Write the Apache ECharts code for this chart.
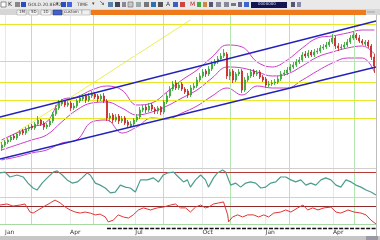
<!DOCTYPE html>
<html><head><meta charset="utf-8">
<script src="https://cdn.jsdelivr.net/npm/echarts@6/dist/echarts.min.js"></script>
<style>html,body{margin:0;padding:0;background:#fff;overflow:hidden}#c{width:380px;height:240px}</style>
</head><body><div id="c"></div>
<script>
// ---- price candles (arbitrary price units) ----
const opens=[52,55,58,60,64,62,66,69,67,71,74,72,76,80,77,73,75,79,86,92,96,99,95,97,92,94,99,101,104,100,104,106,104,101,104,99,82,85,80,84,79,82,78,74,76,80,83,90,93,90,95,91,89,93,88,98,104,111,117,112,116,111,109,105,112,114,120,124,129,126,131,136,138,141,144,146,124,129,120,126,129,110,120,124,129,126,128,123,121,115,116,117,118,121,126,127,130,133,135,138,140,146,144,148,145,148,149,152,153,155,158,162,154,152,153,155,158,162,165,162,159,156,158,154,143];
const closes=[55,58,60,63,62,66,68,67,71,73,72,76,80,76,73,75,79,86,92,97,98,95,97,92,94,99,102,103,100,104,106,103,101,104,99,82,84,80,83,79,81,77,75,76,80,83,90,92,90,94,91,89,92,88,98,104,111,116,112,115,111,108,105,112,114,120,124,128,126,131,136,138,141,144,147,124,128,120,126,128,110,120,124,128,126,127,123,120,115,116,117,118,121,126,127,130,133,135,138,140,145,144,147,145,148,149,152,153,155,158,162,154,152,153,155,158,162,165,162,159,157,158,154,143,134];
const highs=[58,60,62,65,66,67,70,71,73,75,76,78,84,81,79,77,81,88,95,100,101,100,99,99,97,101,105,106,106,107,109,108,106,106,107,101,87,87,86,86,84,84,80,79,82,86,93,95,95,97,97,93,94,94,100,107,114,119,120,118,118,113,111,115,117,123,127,131,131,134,139,141,144,147,151,148,131,131,128,131,131,123,127,131,131,130,130,125,123,119,120,121,124,129,130,133,136,138,141,143,148,149,150,150,151,152,155,156,158,161,166,164,157,156,158,161,165,168,167,165,161,160,160,156,146];
const lows=[49,53,56,58,60,60,64,65,65,69,70,70,74,74,70,71,73,77,84,90,94,93,93,89,90,92,97,99,97,98,102,101,98,99,97,79,78,77,78,76,77,75,72,72,74,78,81,88,87,88,89,86,86,85,86,96,102,109,110,110,109,106,102,103,110,112,118,122,123,124,129,134,136,139,142,121,120,117,118,124,107,108,118,122,123,124,121,118,112,113,114,115,116,119,124,125,128,131,133,136,138,142,142,143,143,146,147,150,151,153,156,151,149,150,151,153,156,160,160,157,155,154,152,140,127];
const categories=opens.map((_,i)=>String(i));

// ---- Bollinger-style bands (read at sparse bar positions) ----
const bandIdx=[0,5,10,15,20,25,30,35,40,45,50,55,60,65,70,75,80,85,90,95,100,105,110,115,120,124];
const bandUpper=[60,67,73,78,100,103,110,114,110,95,97,108,120,130,143,155,153,138,133,140,152,162,164,167,170,170];
const bandMid=[50,55,60,65,78,90,97,98,92,85,88,94,102,110,122,133,132,128,124,126,134,143,148,152,154,146];
const bandLower=[40,43,47,50,57,60,78,80,67,73,82,81,87,94,104,112,105,114,112,112,120,129,137,142,142,128];

// ---- drawn lines: [bar position, price] end points ----
const channelUpper=[[-0.5,83],[124.5,179]];
const channelLower=[[-0.5,41],[124.5,133]];
const trendLine=[[-0.5,57],[62.8,180]];
const levels=[176,139,118,100,82];

// ---- oscillator panel 1 ----
const oscIdx=[-0.5,1.2,2.8,5.2,7.2,8.8,10.5,11.8,13.5,15.2,17.2,18.5,20.2,21.8,23.5,25.2,26.8,28.5,29.5,31.2,32.8,34.5,36.2,37.8,39.5,41.2,42.8,44.5,46.2,48.5,50.5,52.2,53.8,55.2,57.2,58.8,60.5,61.8,62.8,64.5,66.2,67.8,68.8,70.5,71.8,73.5,74.5,76.2,77.8,79.5,81.2,82.8,84.5,86.2,87.8,89.5,91.2,92.8,94.5,96.2,97.8,99.5,101.2,102.8,104.5,106.2,107.8,109.5,111.2,112.8,114.5,116.2,117.8,119.5,121.2,122.8,124.5];
const oscVal=[83,86,69,76,69,48,31,24,48,66,86,90,76,59,48,52,66,83,76,48,41,31,14,17,41,34,31,17,59,59,66,52,76,83,86,69,52,59,34,59,76,59,34,66,83,93,86,41,48,34,48,52,48,31,34,48,52,69,69,59,52,59,41,48,41,59,66,59,41,34,59,52,41,34,24,17,7];
const oscLevel=85;

// ---- oscillator panel 2 ----
const strIdx=[-0.5,1.8,3.8,6.2,7.8,9.5,10.5,12.2,13.8,16.2,17.8,19.5,21.2,22.8,24.5,26.2,27.8,29.5,31.2,32.8,34.5,35.5,37.2,38.8,40.5,42.2,43.8,45.5,47.2,49.5,51.8,53.8,56.2,57.8,59.5,61.2,62.8,64.5,66.2,67.8,68.8,70.5,72.2,73.8,75.2,75.5,76.8,78.5,80.2,81.8,83.8,85.5,87.2,88.8,90.5,92.8,94.5,96.2,98.5,100.2,101.8,103.5,105.2,107.2,109.5,111.2,112.8,115.2,117.2,119.5,121.2,122.8,124.5];
const strVal=[73,77,69,73,77,46,42,54,65,81,92,81,65,54,46,42,46,42,35,38,27,8,15,35,27,23,35,54,62,54,62,65,73,77,62,62,46,65,73,62,65,77,81,85,35,8,27,35,27,35,35,27,35,27,42,46,54,46,62,73,54,62,54,62,65,46,42,54,46,42,35,15,0];
const strLevel=70;

// ---- time axis ----
const monthLines=[9.8,30.5,53.8,76.2,95.5,117.2];
const labelPos=[1.2,22.8,44.5,66.8,87.8,110.2];
const labelText=['Jan','Apr','Jul','Oct','Jan','Apr'];

const chart=echarts.init(document.getElementById('c'),null,{renderer:'canvas'});
const XR={min:-0.5,max:124.5};
const vLines=()=>({silent:true,symbol:'none',label:{show:false},animation:false,
  data:monthLines.map(v=>({xAxis:v,lineStyle:{color:'#b4e6b4',width:1,type:'solid'}}))
    .concat(labelPos.map(v=>({xAxis:v,lineStyle:{color:'#e8e8e8',width:1,type:'solid'}})))});
const pairs=(xs,ys)=>xs.map((x,k)=>[x,ys[k]]);

const option={
  animation:false,
  backgroundColor:'#ffffff',
  grid:[
    {left:0,right:4,top:15,height:153},
    {left:0,right:4,top:168,height:29},
    {left:0,right:4,top:198,height:26}
  ],
  xAxis:[
    {type:'category',gridIndex:0,data:categories,boundaryGap:true,show:false},
    {type:'value',gridIndex:0,...XR,show:false},
    {type:'value',gridIndex:1,...XR,show:false},
    {type:'value',gridIndex:2,...XR,splitLine:{show:false},
      axisLine:{show:true,lineStyle:{color:'#a6d9a6',width:1}},axisTick:{show:false},
      axisLabel:{show:true,customValues:labelPos,formatter:v=>{const k=labelPos.indexOf(v);return k>=0?labelText[k]:'';},
        fontSize:6,color:'#333',align:'left',margin:5,fontFamily:'DejaVu Sans'}}
  ],
  yAxis:[
    {type:'value',gridIndex:0,min:32,max:185,show:false},
    {type:'value',gridIndex:1,min:0,max:100,show:false},
    {type:'value',gridIndex:2,min:0,max:100,show:false}
  ],
  series:[
    {type:'line',xAxisIndex:1,yAxisIndex:0,data:[],markLine:Object.assign(vLines(),{
      data:vLines().data.concat(levels.map(v=>({yAxis:v,lineStyle:{color:'#e6e62a',width:1,type:'solid'}})))})},
    {type:'line',xAxisIndex:1,yAxisIndex:0,data:trendLine,symbol:'none',lineStyle:{color:'#ecec5a',width:1},z:3},
    {type:'line',xAxisIndex:1,yAxisIndex:0,data:pairs(bandIdx,bandUpper),smooth:0.4,symbol:'none',lineStyle:{color:'#c93ec9',width:1},z:4},
    {type:'line',xAxisIndex:1,yAxisIndex:0,data:pairs(bandIdx,bandMid),smooth:0.4,symbol:'none',lineStyle:{color:'#c93ec9',width:1},z:4},
    {type:'line',xAxisIndex:1,yAxisIndex:0,data:pairs(bandIdx,bandLower),smooth:0.4,symbol:'none',lineStyle:{color:'#c93ec9',width:1},z:4},
    {type:'candlestick',xAxisIndex:0,yAxisIndex:0,z:5,barMaxWidth:2,
      data:opens.map((o,i)=>[o,closes[i],lows[i],highs[i]]),
      itemStyle:{color:'#3fcf3f',color0:'#ec3030',borderColor:'#2f9f2f',borderColor0:'#c02020',borderWidth:0.8}},
    {type:'line',xAxisIndex:1,yAxisIndex:0,data:channelUpper,symbol:'none',lineStyle:{color:'#2222bb',width:1.3},z:6},
    {type:'line',xAxisIndex:1,yAxisIndex:0,data:channelLower,symbol:'none',lineStyle:{color:'#2222bb',width:1.3},z:6},
    {type:'line',xAxisIndex:2,yAxisIndex:1,data:pairs(oscIdx,oscVal),symbol:'none',lineStyle:{color:'#4c9c90',width:1.2},z:5,
      markLine:Object.assign(vLines(),{data:vLines().data.concat([{yAxis:oscLevel,lineStyle:{color:'#b83838',width:1,type:'solid'}}])})},
    {type:'line',xAxisIndex:3,yAxisIndex:2,data:pairs(strIdx,strVal),symbol:'none',lineStyle:{color:'#e03434',width:1},z:5,
      markLine:Object.assign(vLines(),{data:vLines().data.concat([{yAxis:strLevel,lineStyle:{color:'#8e2a2a',width:1,type:'solid'}}])})}
  ],
  graphic:[
    {type:'rect',shape:{x:0,y:0,width:380,height:9},style:{fill:'#e9e9e9'},silent:true},
    {type:'rect',shape:{x:0,y:9,width:380,height:6},style:{fill:'#d6d6d6'},silent:true},
    {type:'rect',shape:{x:1,y:2,width:5,height:5},style:{fill:'#fff',stroke:'#666',lineWidth:0.7}},
    {type:'text',left:8,top:1,style:{text:'K',fontSize:6,fill:'#333',fontFamily:'DejaVu Sans'}},
    {type:'rect',shape:{x:15,y:2,width:5,height:5},style:{fill:'#888'}},
    {type:'rect',shape:{x:21,y:2,width:5,height:5},style:{fill:'#2b4fb8'}},
    {type:'text',left:28,top:2,style:{text:'GOLD.20.8EH2',fontSize:4.5,fill:'#444',fontFamily:'DejaVu Sans'}},
    {type:'text',left:56,top:1,style:{text:'▾',fontSize:5,fill:'#444'}},
    {type:'rect',shape:{x:61,y:2,width:5,height:5},style:{fill:'#2b4fb8'}},
    {type:'rect',shape:{x:67,y:2,width:5,height:5},style:{fill:'#4466dd'}},
    {type:'text',left:77,top:2,style:{text:'TIME',fontSize:4.5,fill:'#444',fontFamily:'DejaVu Sans'}},
    {type:'text',left:92,top:1,style:{text:'▾',fontSize:5,fill:'#444'}},
    {type:'text',left:99,top:0,style:{text:'↘',fontSize:7,fill:'#444'}},
    {type:'rect',shape:{x:108,y:2,width:5,height:5},style:{fill:'#5a7fa8'}},
    {type:'rect',shape:{x:115,y:2,width:5,height:5},style:{fill:'#445'}},
    {type:'rect',shape:{x:122,y:2,width:4,height:5},style:{fill:'#889'}},
    {type:'rect',shape:{x:128,y:2,width:5,height:5},style:{fill:'#c8c8c8',stroke:'#666',lineWidth:0.6}},
    {type:'rect',shape:{x:136,y:2,width:5,height:5},style:{fill:'#9aa'}},
    {type:'rect',shape:{x:144,y:2,width:5,height:5},style:{fill:'#777'}},
    {type:'rect',shape:{x:151,y:2,width:5,height:5},style:{fill:'#2e6fb0'}},
    {type:'rect',shape:{x:158,y:2,width:5,height:5},style:{fill:'#555'}},
    {type:'text',left:166,top:1,style:{text:'A',fontSize:6,fill:'#444',fontFamily:'DejaVu Sans'}},
    {type:'rect',shape:{x:173,y:2,width:5,height:5},style:{fill:'#3b5fc0'}},
    {type:'rect',shape:{x:180,y:2,width:5,height:5},style:{fill:'#c44'}},
    {type:'text',left:190,top:1,style:{text:'M',fontSize:6,fill:'#b22',fontFamily:'DejaVu Sans'}},
    {type:'rect',shape:{x:197,y:2,width:4,height:5},style:{fill:'#4a4'}},
    {type:'rect',shape:{x:203,y:2,width:4,height:5},style:{fill:'#c84'}},
    {type:'rect',shape:{x:209,y:2,width:4,height:5},style:{fill:'#557'}},
    {type:'rect',shape:{x:216,y:2,width:5,height:5},style:{fill:'#889'}},
    {type:'rect',shape:{x:224,y:2,width:5,height:5},style:{fill:'#889'}},
    {type:'rect',shape:{x:231,y:3,width:5,height:3},style:{fill:'#777'}},
    {type:'rect',shape:{x:238,y:2,width:4,height:5},style:{fill:'#668'}},
    {type:'rect',shape:{x:244,y:2,width:5,height:5},style:{fill:'#3b66d0'}},
    {type:'rect',shape:{x:251,y:2,width:36,height:6},style:{fill:'#141450'}},
    {type:'text',left:258,top:2,style:{text:'0000000',fontSize:4,fill:'#dde',fontFamily:'DejaVu Sans'}},
    {type:'rect',shape:{x:291,y:2,width:4,height:5},style:{fill:'#557'}},
    {type:'rect',shape:{x:297,y:2,width:4,height:5},style:{fill:'#88a'}},
    {type:'rect',shape:{x:17,y:10,width:9,height:5},style:{fill:'#f4f4f4',stroke:'#999',lineWidth:0.5}},
    {type:'rect',shape:{x:29,y:10,width:9,height:5},style:{fill:'#f4f4f4',stroke:'#999',lineWidth:0.5}},
    {type:'rect',shape:{x:41,y:10,width:10,height:5},style:{fill:'#f4f4f4',stroke:'#999',lineWidth:0.5}},
    {type:'rect',shape:{x:53,y:10,width:9,height:5},style:{fill:'#4060d0',stroke:'#335',lineWidth:0.5}},
    {type:'rect',shape:{x:63,y:10,width:27,height:5},style:{fill:'#f0f0f0',stroke:'#999',lineWidth:0.5}},
    {type:'text',left:19,top:10,style:{text:'1M',fontSize:4,fill:'#333',fontFamily:'DejaVu Sans'}},
    {type:'text',left:31,top:10,style:{text:'5D',fontSize:4,fill:'#333',fontFamily:'DejaVu Sans'}},
    {type:'text',left:43,top:10,style:{text:'1D',fontSize:4,fill:'#333',fontFamily:'DejaVu Sans'}},
    {type:'text',left:64,top:10,style:{text:'custom  |',fontSize:4,fill:'#333',fontFamily:'DejaVu Sans'}},
    {type:'rect',shape:{x:91,y:10,width:275,height:5},style:{fill:'#ef7a1c'}},
    {type:'text',left:367,top:10,style:{text:'▭▭',fontSize:4,fill:'#777'}},
    {type:'line',shape:{x1:0,y1:168.5,x2:376,y2:168.5},style:{stroke:'#cfcfcf',lineWidth:1},z:10},
    {type:'line',shape:{x1:0,y1:197.5,x2:376,y2:197.5},style:{stroke:'#c6d8c6',lineWidth:1},z:10},
    {type:'line',shape:{x1:376.5,y1:15,x2:376.5,y2:236},style:{stroke:'#bdbdbd',lineWidth:1},z:10},
    {type:'line',shape:{x1:107,y1:228.5,x2:376,y2:228.5},style:{stroke:'#111',lineWidth:1.6,lineDash:[4,1.4]},z:10},
    {type:'rect',shape:{x:0,y:236,width:380,height:4},style:{fill:'#c6c6c6'},z:10},
    {type:'rect',shape:{x:366,y:236,width:12,height:4},style:{fill:'#9a9aa6'},z:10}
  ]
};
chart.setOption(option);
</script></body></html>
